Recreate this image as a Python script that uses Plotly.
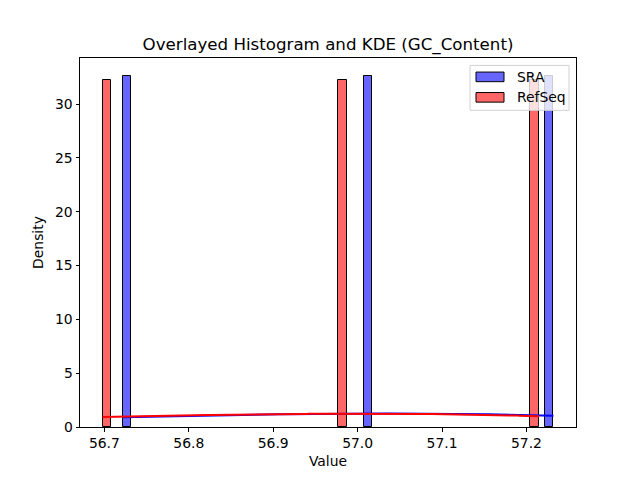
import numpy as np
import plotly.graph_objects as go

# Data (GC content values)
sra_values = [56.7215, 57.012, 57.2320]
refseq_values = [56.6978, 56.981, 57.2150]
series_names = ["SRA", "RefSeq"]
n_bins = 50

bar_colors = {"SRA": "rgba(0,0,255,0.6)", "RefSeq": "rgba(255,0,0,0.6)"}
line_colors = {"SRA": "blue", "RefSeq": "red"}

W, H = 640, 480
L, R, T, B = 80, 64, 57.6, 52.8
PW, PH = W - L - R, H - T - B


def px(xp):
    return (xp - L) / PW


def py(yp):
    return (H - B - yp) / PH


def kde_curve(vals, gridsize=200):
    v = np.asarray(vals, dtype=float)
    n = len(v)
    bw = np.std(v, ddof=1) * n ** (-1 / 5)
    xs = np.linspace(v.min(), v.max(), gridsize)
    dens = np.exp(-0.5 * ((xs[:, None] - v[None, :]) / bw) ** 2).sum(axis=1)
    dens /= n * bw * np.sqrt(2 * np.pi)
    return xs, dens


fig = go.Figure()
all_edges = []
ymax = 0
for name, vals in zip(series_names, [sra_values, refseq_values]):
    counts, edges = np.histogram(vals, bins=n_bins, density=True)
    all_edges += [edges[0], edges[-1]]
    centers = (edges[:-1] + edges[1:]) / 2
    w = edges[1] - edges[0]
    mask = counts > 0
    ymax = max(ymax, counts.max())
    fig.add_trace(go.Bar(
        x=centers[mask], y=counts[mask], width=w,
        marker=dict(color=bar_colors[name], line=dict(color="black", width=1)),
        name=name, showlegend=False,
    ))
    xs, dens = kde_curve(vals)
    fig.add_trace(go.Scatter(
        x=xs, y=dens, mode="lines", line=dict(color=line_colors[name], width=2),
        showlegend=False, hoverinfo="skip",
    ))

xmin, xmax = min(all_edges), max(all_edges)
pad = (xmax - xmin) * 0.05

font = "DejaVu Sans, Arial, sans-serif"

# Legend drawn as shapes/annotations (matplotlib style)
shapes = [dict(type="rect", xref="paper", yref="paper",
               x0=px(470), x1=px(569), y0=py(110), y1=py(65),
               fillcolor="rgba(255,255,255,0.8)", line=dict(color="#d0d0d0", width=1),
               layer="above")]
annotations = []
for i, name in enumerate(series_names):
    yc = 76.5 + i * 20.5
    shapes.append(dict(type="rect", xref="paper", yref="paper",
                       x0=px(476), x1=px(504), y0=py(yc + 4.8), y1=py(yc - 4.8),
                       fillcolor=bar_colors[name], line=dict(color="black", width=1),
                       layer="above"))
    annotations.append(dict(x=px(515), y=py(yc), xref="paper", yref="paper",
                            text=name, showarrow=False, xanchor="left", yanchor="middle",
                            font=dict(size=13.9, family=font, color="black")))

fig.update_layout(
    width=W, height=H,
    margin=dict(l=L, r=R, t=T, b=B),
    paper_bgcolor="white", plot_bgcolor="white",
    barmode="overlay", bargap=0,
    showlegend=False,
    font=dict(family=font, size=13.9, color="black"),
    title=dict(text="Overlayed Histogram and KDE (GC_Content)", x=0.5, xref="paper",
               xanchor="center", y=1 - 44 / 480, yanchor="middle",
               font=dict(size=16.67, family=font)),
    shapes=shapes, annotations=annotations,
    xaxis=dict(range=[xmin - pad, xmax + pad], tickmode="array",
               tickvals=[56.7, 56.8, 56.9, 57.0, 57.1, 57.2],
               ticktext=["56.7", "56.8", "56.9", "57.0", "57.1", "57.2"],
               showline=True, linecolor="black", linewidth=1, mirror=True,
               ticks="outside", ticklen=3.5, tickcolor="black", showgrid=False, zeroline=False,
               title=dict(text="Value", standoff=6, font=dict(size=13.9)),
               tickfont=dict(size=13.9)),
    yaxis=dict(range=[0, ymax * 1.05], tickmode="linear", tick0=0, dtick=5,
               showline=True, linecolor="black", linewidth=1, mirror=True,
               ticks="outside", ticklen=3.5, tickcolor="black", showgrid=False, zeroline=False,
               title=dict(text="Density", standoff=8, font=dict(size=13.9)),
               tickfont=dict(size=13.9)),
)

fig.write_html("out.html")
